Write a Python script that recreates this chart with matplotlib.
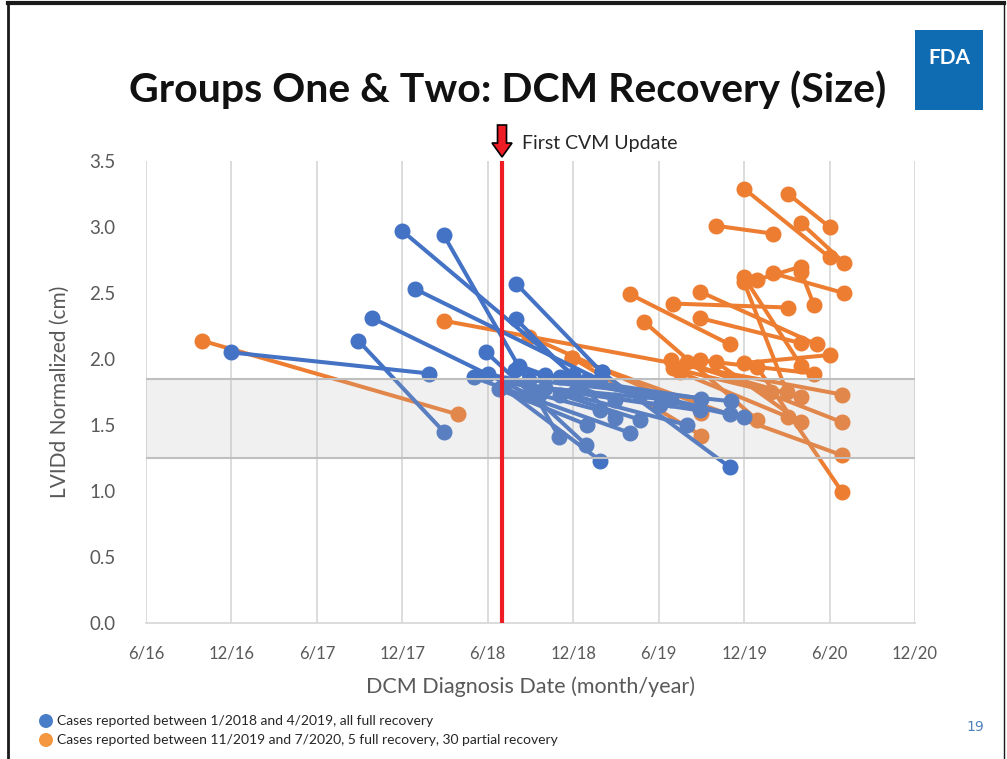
import matplotlib
matplotlib.use("Agg")
import matplotlib.pyplot as plt
from matplotlib.patches import Rectangle, Polygon, Circle
from matplotlib.lines import Line2D

# ---------------- data ----------------
# x = months since June 2016, y = LVIDd normalized (cm)
tick_months = [0, 6, 12, 18, 24, 30, 36, 42, 48, 54]
tick_labels = ["6/16", "12/16", "6/17", "12/17", "6/18", "12/18", "6/19", "12/19", "6/20", "12/20"]
y_ticks = [0.0, 0.5, 1.0, 1.5, 2.0, 2.5, 3.0, 3.5]

blue_x0 = [6.0, 14.9, 15.9, 18.0, 20.9, 18.9, 26.0, 26.0, 23.9, 23.0, 24.0, 25.0, 32.0,
           28.0, 26.9, 29.1, 31.0, 24.8, 26.2, 27.6, 25.9, 25.2, 28.0, 29.1, 30.1]
blue_y0 = [2.05, 2.14, 2.31, 2.97, 2.94, 2.53, 2.57, 2.30, 2.05, 1.86, 1.89, 1.79, 1.90,
           1.88, 1.84, 1.86, 1.84, 1.77, 1.95, 1.73, 1.92, 1.82, 1.78, 1.73, 1.75]
blue_x1 = [19.9, 20.9, 26.9, 30.0, 29.0, 31.9, 32.0, 32.9, 30.9, 34.0, 38.0, 31.9, 41.0,
           39.0, 41.1, 41.0, 42.0, 31.0, 32.9, 31.9, 34.7, 36.1, 36.9, 34.7, 38.9]
blue_y1 = [1.89, 1.45, 1.73, 1.88, 1.41, 1.84, 1.90, 1.55, 1.35, 1.44, 1.50, 1.23, 1.18,
           1.70, 1.68, 1.58, 1.56, 1.50, 1.69, 1.61, 1.73, 1.65, 1.69, 1.54, 1.61]

orange_x0 = [3.9, 20.9, 26.9, 29.9, 34.0, 35.0, 37.0, 38.9, 38.9, 40.0, 42.0, 45.1, 46.0,
             42.9, 44.0, 46.0, 42.0, 42.0, 42.9, 36.9, 37.0, 38.0, 38.9, 40.0, 37.5, 42.0, 29.9]
orange_y0 = [2.14, 2.29, 2.17, 2.01, 2.49, 2.28, 2.42, 2.51, 2.31, 3.01, 3.29, 3.25, 3.03,
             2.60, 2.65, 2.66, 2.62, 2.58, 1.94, 1.99, 1.93, 1.98, 1.99, 1.98, 1.90, 1.97, 2.01]
orange_x1 = [21.9, 48.9, 39.0, 48.9, 41.0, 42.9, 45.1, 47.1, 46.0, 44.0, 48.0, 48.0, 49.0,
             46.0, 49.0, 46.9, 46.0, 45.0, 48.9, 46.0, 43.9, 48.9, 46.9, 46.0, 45.1, 48.0, 39.0]
orange_y1 = [1.58, 1.73, 1.59, 1.27, 2.11, 1.54, 2.39, 2.11, 2.12, 2.95, 2.77, 3.00, 2.73,
             2.70, 2.50, 2.41, 1.95, 1.75, 0.99, 1.71, 1.75, 1.52, 1.89, 1.52, 1.56, 2.03, 1.42]

band_low, band_high = 1.25, 1.85
update_month = 25.0

BLUE = "#4472C4"
ORANGE = "#ED7D31"
GREY = "#595959"
FONT = "Lato"

# ---------------- figure ----------------
W, H = 1007, 759
fig = plt.figure(figsize=(W / 100, H / 100), dpi=100)
fig.patch.set_facecolor("white")

def fx(px):
    return px / W

def fy(py):
    return 1 - py / H

ax = fig.add_axes([fx(146), fy(623), fx(915) - fx(146), fy(161) - fy(623)])
ax.set_xlim(tick_months[0], tick_months[-1])
ax.set_ylim(0, 3.5)

# gridlines (vertical only)
for m in tick_months:
    ax.axvline(m, color="#d9d9d9", lw=1.3, zorder=0)
for s in ["top", "right", "left"]:
    ax.spines[s].set_visible(False)
ax.spines["bottom"].set_color("#d9d9d9")
ax.spines["bottom"].set_linewidth(1.3)

ax.set_xticks(tick_months)
ax.set_xticklabels(tick_labels)
ax.set_yticks(y_ticks)
ax.set_yticklabels([f"{v:.1f}" for v in y_ticks])
ax.tick_params(axis="both", length=0, colors=GREY)
ax.tick_params(axis="x", pad=16, labelsize=12)
ax.tick_params(axis="y", pad=22, labelsize=13.5)
for lab in ax.get_xticklabels() + ax.get_yticklabels():
    lab.set_family(FONT)

# segments
for x0, y0, x1, y1 in zip(orange_x0, orange_y0, orange_x1, orange_y1):
    ax.plot([x0, x1], [y0, y1], "-o", color=ORANGE, lw=2.9, ms=10.5,
            solid_capstyle="round", zorder=2)
for x0, y0, x1, y1 in zip(blue_x0, blue_y0, blue_x1, blue_y1):
    ax.plot([x0, x1], [y0, y1], "-o", color=BLUE, lw=2.9, ms=10.5,
            solid_capstyle="round", zorder=3)

# normal-range band drawn over the data
ax.axhspan(band_low, band_high, facecolor="#b4b4b4", alpha=0.2, edgecolor="none", zorder=5)
ax.axhline(band_low, color="#bfbfbf", lw=1.5, zorder=5)
ax.axhline(band_high, color="#bfbfbf", lw=1.5, zorder=5)

# first CVM update line
ax.axvline(update_month, color="#ee1c25", lw=3, zorder=6)

ax.set_ylabel("LVIDd Normalized (cm)", fontsize=15, color=GREY, family=FONT, labelpad=14)
ax.set_xlabel("DCM Diagnosis Date (month/year)", fontsize=15.5, color=GREY, family=FONT, labelpad=11)

# arrow above red line (display pixels)
xd, ytop = ax.transData.transform((update_month, 3.5))
tip_y = ytop + 4
pts = [(xd - 4.5, tip_y + 32), (xd + 4.5, tip_y + 32), (xd + 4.5, tip_y + 14),
       (xd + 10, tip_y + 14), (xd, tip_y), (xd - 10, tip_y + 14), (xd - 4.5, tip_y + 14)]
fig.patches.append(Polygon(pts, closed=True, facecolor="#ee1c25", edgecolor="black",
                           lw=1.2, transform=None, zorder=10))
fig.text(fx(522), fy(143), "First CVM Update", fontsize=14, family=FONT, color="#262626",
         ha="left", va="center")

# title
fig.text(fx(508), fy(90), "Groups One & Two: DCM Recovery (Size)", fontsize=29.5,
         fontweight="bold", family=FONT, color="#111111", ha="center", va="center")

# FDA logo box
fig.patches.append(Rectangle((fx(915), fy(110)), fx(983) - fx(915), fy(30) - fy(110),
                             transform=fig.transFigure, facecolor="#0F6CB2", edgecolor="none"))
fig.text(fx(949), fy(58), "FDA", fontsize=15, fontweight="bold", family=FONT,
         color="white", ha="center", va="center")

# slide border
fig.add_artist(Line2D([fx(8), fx(8)], [fy(3), 0], color="#1a1a1a", lw=2, transform=fig.transFigure))
fig.add_artist(Line2D([fx(8), fx(1004)], [fy(3), fy(3)], color="#1a1a1a", lw=3, transform=fig.transFigure))
fig.add_artist(Line2D([fx(1004), fx(1004)], [fy(3), 0], color="#1a1a1a", lw=1, transform=fig.transFigure))

# legend
fig.patches.append(Circle((46, H - 721), 7, transform=None, facecolor="#4A7DC8", edgecolor="none"))
fig.patches.append(Circle((46, H - 740), 7, transform=None, facecolor="#F4973F", edgecolor="none"))
fig.text(fx(57), fy(721), "Cases reported between 1/2018 and 4/2019, all full recovery",
         fontsize=10, family=FONT, color="#262626", ha="left", va="center")
fig.text(fx(57), fy(740), "Cases reported between 11/2019 and 7/2020, 5 full recovery, 30 partial recovery",
         fontsize=10, family=FONT, color="#262626", ha="left", va="center")
fig.text(fx(975), fy(727), "19", fontsize=10, family="DejaVu Sans", color="#4F81BD",
         ha="center", va="center")

fig.savefig("out.png", dpi=100)
